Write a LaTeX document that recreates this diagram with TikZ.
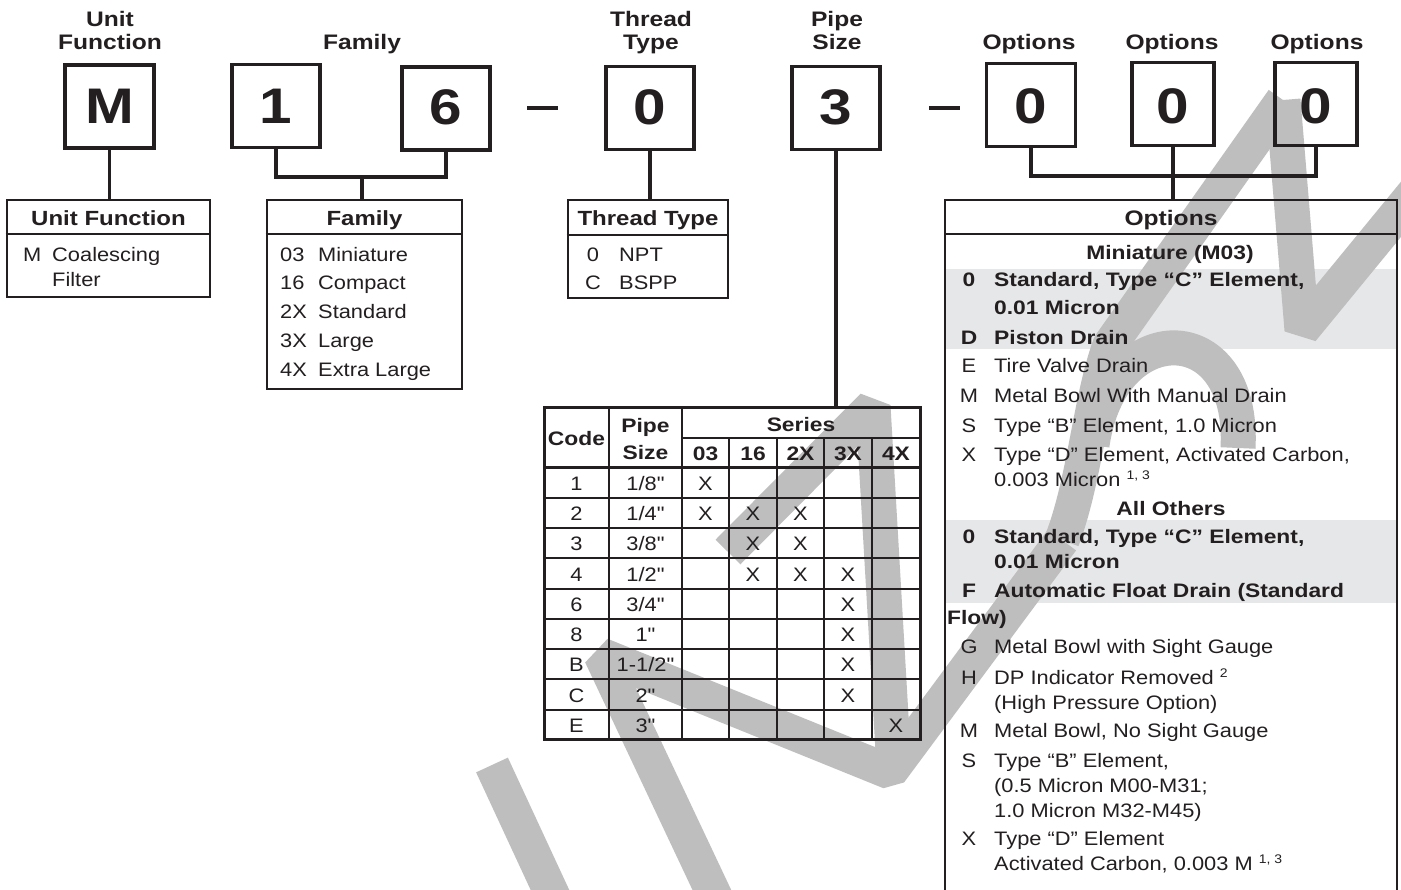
\documentclass[tikz,border=0pt]{standalone}
\usepackage{tikz}
\usepackage{fontspec}
\setmainfont{Liberation Sans}[FakeStretch=1.12, Ligatures=TeXOff]
\newfontfamily\bdfam{Liberation Sans}[FakeStretch=1.17]
\definecolor{ink}{HTML}{231F20}
\definecolor{hl}{HTML}{E6E7E8}
\definecolor{wmgray}{HTML}{BEBEBE}
\newcommand{\fRg}{\fontsize{19.5}{24}\selectfont}
\newcommand{\fBd}{\bdfam\bfseries\fontsize{19.5}{24}\selectfont}
\newcommand{\fHd}{\bdfam\bfseries\fontsize{21}{24}\selectfont}
\newcommand{\fBig}{\bdfam\bfseries\fontsize{50}{50}\selectfont}
\newcommand{\sups}[1]{ \raisebox{7pt}{\fontsize{12.5}{12.5}\selectfont #1}}
\tikzset{
  codebox/.style={draw=ink, line width=3.5pt, minimum width=88pt, minimum height=83pt, inner sep=0pt},
  bigl/.style={anchor=base, inner sep=0pt, text=ink, font=\fBig},
  lbl/.style={anchor=base, inner sep=0pt, text=ink, font=\fHd},
  conn/.style={draw=ink, line width=3.5pt},
  dashln/.style={draw=ink, line width=4pt},
  tblbox/.style={draw=ink, line width=2.6pt, inner sep=0pt},
  tline/.style={draw=ink, line width=2.2pt},
  tt/.style={anchor=base west, inner sep=0pt, text=ink, font=\fRg},
  tb/.style={anchor=base west, inner sep=0pt, text=ink, font=\fBd},
  ct/.style={anchor=base, inner sep=0pt, text=ink, font=\fRg},
  cb/.style={anchor=base, inner sep=0pt, text=ink, font=\fBd},
  wm/.style={draw=wmgray, line width=35pt, line join=bevel},
}
\begin{document}
\begin{tikzpicture}[x=1pt, y=-1pt]
\useasboundingbox (0,0) rectangle (1401,890);
\fill[white] (0,0) rectangle (1401,890);
\begin{scope}
\clip (0,0) rectangle (1401,890);
% highlight bands of the options table
\fill[hl] (945,269) rectangle (1397,349);
\fill[hl] (945,520) rectangle (1397,603);
% watermark
\draw[wm] (492,765) -- (556,903);
\draw[wm] (718,903) -- (601,655) -- (890,772) -- (1062,540);
\draw[wm] (728,552) -- (873,406) -- (894,768);
\draw[wm] (1062,540) .. controls (1085,480) and (1090,400) .. (1110,345) -- (1283,100);
\draw[wm] (1092,445) .. controls (1110,315) and (1245,315) .. (1238,448);
\draw[wm] (1283,100) -- (1302,330) -- (1425,180);
\end{scope}

% top labels
\node[lbl] (labU1) at (110,27) {Unit};
\node[lbl] (labU2) at (110,50) {Function};
\node[lbl] (labF) at (362,50) {Family};
\node[lbl] (labT1) at (651,27) {Thread};
\node[lbl] (labT2) at (651,50) {Type};
\node[lbl] (labP1) at (837,27) {Pipe};
\node[lbl] (labP2) at (837,50) {Size};
\node[lbl] (labO1) at (1029,50) {Options};
\node[lbl] (labO2) at (1172,50) {Options};
\node[lbl] (labO3) at (1317,50) {Options};

% code boxes
\node[codebox, minimum width=89pt] (bM) at (109.5,106.5) {};
\node[codebox] (bF1) at (276,106) {};
\node[codebox] (bF2) at (446,108.5) {};
\node[codebox] (bT) at (650,108) {};
\node[codebox] (bP) at (836,108) {};
\node[codebox, minimum width=89pt] (bO1) at (1031,105) {};
\node[codebox, minimum width=82pt] (bO2) at (1173,104) {};
\node[codebox, minimum width=82pt] (bO3) at (1316,104) {};
\node[bigl] (lM) at (109.5,124) {M};
\node[bigl] (lF1) at (276,124) {1};
\node[bigl] (lF2) at (446,125) {6};
\node[bigl] (lT) at (650,125) {0};
\node[bigl] (lP) at (836,125) {3};
\node[bigl] (lO1) at (1031,124) {0};
\node[bigl] (lO2) at (1173,124) {0};
\node[bigl] (lO3) at (1316,124) {0};

% dashes
\coordinate (d1a) at (527,108); \coordinate (d1b) at (558,108);
\coordinate (d2a) at (929,108); \coordinate (d2b) at (960,108);
\draw[dashln] (d1a) -- (d1b);
\draw[dashln] (d2a) -- (d2b);

% tables (outer boxes)
\node[tblbox, minimum width=203pt, minimum height=97pt] (tUF) at (108.5,248.5) {};
\node[tblbox, minimum width=195pt, minimum height=189pt] (tFam) at (364.5,294.5) {};
\node[tblbox, minimum width=160pt, minimum height=98pt] (tTT) at (648,249) {};
\node[draw=ink, line width=3pt, inner sep=0pt, minimum width=376pt, minimum height=331pt] (tPS) at (732,573.5) {};
\coordinate (tOPn) at (1173,200);
\draw[draw=ink, line width=2.6pt] (945,895) -- (945,200) -- (1397,200) -- (1397,895);

% connectors
\draw[conn] (bM.south) -- (bM.south |- tUF.north);
\coordinate (famJ) at (362,177);
\draw[conn] (bF1.south) |- (famJ) -| (bF2.south);
\draw[conn] (famJ) -- (famJ |- tFam.north);
\draw[conn] (bT.south) -- (bT.south |- tTT.north);
\draw[conn] (bP.south) -- (bP.south |- tPS.north);
\coordinate (optJ) at (1173,176);
\draw[conn] (bO1.south) |- (optJ) -| (bO3.south);
\draw[conn] (bO2.south) -- (tOPn);

% Unit Function table
\draw[tline] (tUF.west |- 0,234) -- (tUF.east |- 0,234);
\node[lbl, font=\fBd\fontsize{20.5}{24}\selectfont] (hUF) at (108.5,226) {Unit Function};
\node[tt] (uf1) at (23,262) {M};
\node[tt] (uf2) at (52,262) {Coalescing};
\node[tt] (uf3) at (52,287) {Filter};

% Family table
\draw[tline] (tFam.west |- 0,234) -- (tFam.east |- 0,234);
\node[lbl, font=\fBd\fontsize{20.5}{24}\selectfont] (hFam) at (364.5,226) {Family};
\foreach \c/\t/\y [count=\i] in {03/Miniature/262, 16/Compact/290, 2X/Standard/319, 3X/Large/348, 4X/Extra Large/377}{
  \node[tt] (famc\i) at (280,\y) {\c};
  \node[tt] (famt\i) at (318,\y) {\t};
}

% Thread Type table
\draw[tline] (tTT.west |- 0,235) -- (tTT.east |- 0,235);
\node[lbl, font=\fBd\fontsize{20.5}{24}\selectfont] (hTT) at (648,226) {Thread Type};
\node[ct] (tt1c) at (593,262) {0};
\node[tt] (tt1t) at (619,262) {NPT};
\node[ct] (tt2c) at (593,290) {C};
\node[tt] (tt2t) at (619,290) {BSPP};

% Pipe size table grid
\foreach \x in {609,682}{ \draw[tline] (\x,408) -- (\x,739); }
\foreach \x in {729,777,824,872}{ \draw[tline] (\x,437.7) -- (\x,739); }
\draw[tline] (682,437.7) -- (920,437.7);
\draw[draw=ink, line width=3pt] (544,467.7) -- (920,467.7);
\foreach \y in {498.3,528.3,558.3,589,619,649,679.3,710}{ \draw[tline] (544,\y) -- (920,\y); }
\node[cb] (pcode) at (576.5,446) {Code};
\node[cb] (ppipe) at (645.5,433) {Pipe};
\node[cb] (psize) at (645.5,460) {Size};
\node[cb] (pser) at (801,432) {Series};
\foreach \s/\x [count=\i] in {03/705.5,16/753,2X/800.5,3X/848,4X/896}{
  \node[cb] (ps\i) at (\x,461) {\s};
}
\foreach \c/\p/\y [count=\i] in {1/{1/8"}/490.5, 2/{1/4"}/520.8, 3/{3/8"}/550.8, 4/{1/2"}/581.2, 6/{3/4"}/611.5, 8/{1"}/641.5, B/{1-1/2"}/671.7, C/{2"}/702.2, E/{3"}/732.2}{
  \node[ct] (pc\i) at (576.5,\y) {\c};
  \node[ct] (pp\i) at (645.5,\y) {\p};
}
\foreach \x/\y [count=\i] in {705.5/490.5, 705.5/520.8, 753/520.8, 800.5/520.8, 753/550.8, 800.5/550.8, 753/581.2, 800.5/581.2, 848/581.2, 848/611.5, 848/641.5, 848/671.7, 848/702.2, 896/732.2}{
  \node[ct] (px\i) at (\x,\y) {X};
}

% Options table
\draw[tline] (945,234) -- (1397,234);
\node[lbl] (hOP) at (1171,226) {Options};
\node[cb] (oMin) at (1170,260) {Miniature (M03)};
\node[cb] (o1c) at (969,287) {0};
\node[tb] (o1t) at (994,287) {Standard, Type “C” Element,};
\node[tb] (o1u) at (994,315) {0.01 Micron};
\node[cb] (o2c) at (969,345) {D};
\node[tb] (o2t) at (994,345) {Piston Drain};
\node[ct] (o3c) at (969,373) {E};
\node[tt] (o3t) at (994,373) {Tire Valve Drain};
\node[ct] (o4c) at (969,403) {M};
\node[tt] (o4t) at (994,403) {Metal Bowl With Manual Drain};
\node[ct] (o5c) at (969,433) {S};
\node[tt] (o5t) at (994,433) {Type “B” Element, 1.0 Micron};
\node[ct] (o6c) at (969,462) {X};
\node[tt] (o6t) at (994,462) {Type “D” Element, Activated Carbon,};
\node[tt] (o6u) at (994,487) {0.003 Micron\sups{1, 3}};
\node[cb] (oAll) at (1171,515) {All Others};
\node[cb] (o7c) at (969,543) {0};
\node[tb] (o7t) at (994,543) {Standard, Type “C” Element,};
\node[tb] (o7u) at (994,568) {0.01 Micron};
\node[cb] (o8c) at (969,597) {F};
\node[tb] (o8t) at (994,597) {Automatic Float Drain (Standard};
\node[tb] (o8u) at (947,624) {Flow)};
\node[ct] (o9c) at (969,653) {G};
\node[tt] (o9t) at (994,653) {Metal Bowl with Sight Gauge};
\node[ct] (o10c) at (969,684) {H};
\node[tt] (o10t) at (994,684) {DP Indicator Removed\sups{2}};
\node[tt] (o10u) at (994,709) {(High Pressure Option)};
\node[ct] (o11c) at (969,737) {M};
\node[tt] (o11t) at (994,737) {Metal Bowl, No Sight Gauge};
\node[ct] (o12c) at (969,767) {S};
\node[tt] (o12t) at (994,767) {Type “B” Element,};
\node[tt] (o12u) at (994,792) {(0.5 Micron M00-M31;};
\node[tt] (o12v) at (994,817) {1.0 Micron M32-M45)};
\node[ct] (o13c) at (969,845) {X};
\node[tt] (o13t) at (994,845) {Type “D” Element};
\node[tt] (o13u) at (994,870) {Activated Carbon, 0.003 M\sups{1, 3}};
\end{tikzpicture}
\end{document}
